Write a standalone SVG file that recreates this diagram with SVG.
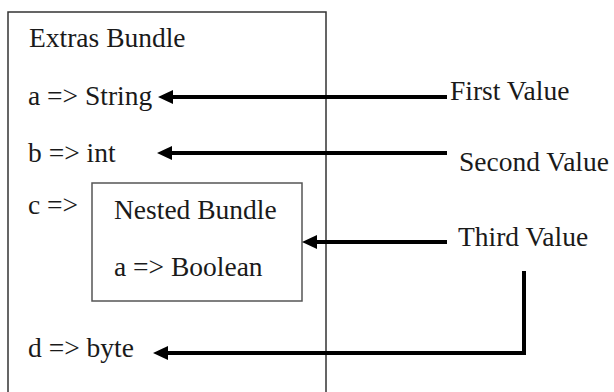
<svg xmlns="http://www.w3.org/2000/svg" width="614" height="392" viewBox="0 0 614 392">
<defs>
<style>
text{font-family:"Liberation Serif","Times New Roman",serif;font-size:27.5px;fill:#1a1a1a}
.box{fill:#fff;stroke:#333;stroke-width:1.5}
.nbox{fill:#fff;stroke:#555;stroke-width:1.5}
.conn{fill:none;stroke:#000;stroke-width:4;stroke-linejoin:miter}
</style>
<marker id="ah" markerUnits="userSpaceOnUse" viewBox="0 -7 15 14" refX="5" refY="0" markerWidth="15" markerHeight="14" orient="auto">
<path d="M0,-7 L15,0 L0,7 Z" fill="#000"/>
</marker>
</defs>
<rect width="614" height="392" fill="#fff"/>
<g id="extras">
<rect class="box" x="8" y="12" width="318" height="400"/>
<text x="29" y="47">Extras Bundle</text>
<text x="28" y="105">a =&gt; String</text>
<text x="28" y="162">b =&gt; int</text>
<text x="28" y="214">c =&gt;</text>
<text x="28" y="357">d =&gt; byte</text>
</g>
<g id="nested">
<rect class="nbox" x="92" y="183" width="210" height="118"/>
<text x="114" y="219">Nested Bundle</text>
<text x="114" y="276">a =&gt; Boolean</text>
</g>
<g id="first"><text x="450" y="100">First Value</text></g>
<g id="second"><text x="459" y="171">Second Value</text></g>
<g id="third"><text x="458" y="246">Third Value</text></g>
<g id="connectors">
<path class="conn" d="M447,97 H168" marker-end="url(#ah)"/>
<path class="conn" d="M447,153 H167" marker-end="url(#ah)"/>
<path class="conn" d="M447,242 H312" marker-end="url(#ah)"/>
<path class="conn" d="M524,271 V353 H163" marker-end="url(#ah)"/>
</g>
</svg>
